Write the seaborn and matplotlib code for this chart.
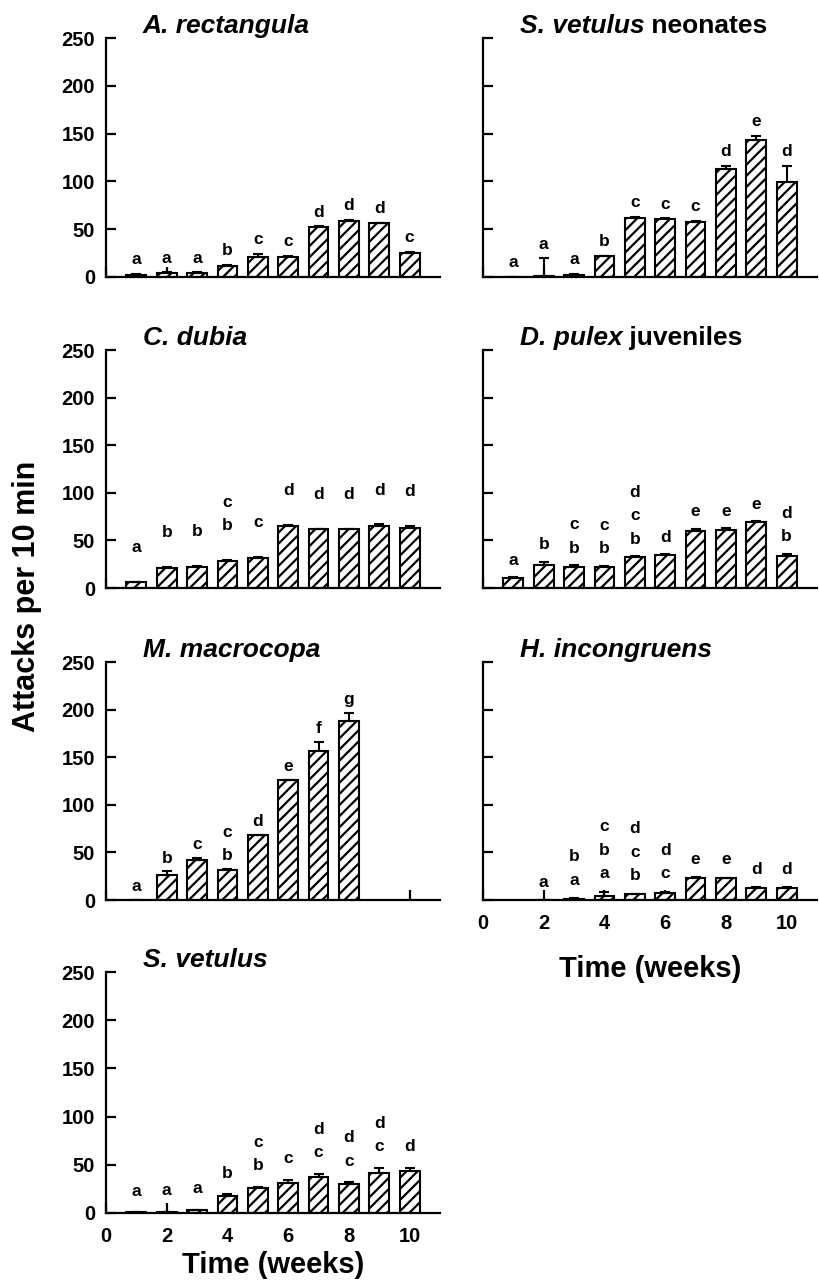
import numpy as np
import pandas as pd
import matplotlib
matplotlib.use("Agg")
import matplotlib.pyplot as plt
import seaborn as sns

# Weeks on the x axis
weeks = [1, 2, 3, 4, 5, 6, 7, 8, 9, 10]

# A. rectangula
rect_mean = [2, 4, 4, 12, 21, 21, 52, 59, 56, 25]
rect_se = [1, 1, 1, 1, 3, 1, 1, 1, 1, 1]
rect_letters = ["a", "a", "a", "b", "c", "c", "d", "d", "d", "c"]

# S. vetulus neonates
neo_mean = [0, 1.5, 2.5, 21.5, 61.5, 60.5, 58, 113, 143, 99]
neo_se = [0, 18, 1, 0.5, 1.5, 1, 0.5, 3.5, 5, 17.5]
neo_letters = ["a", "a", "a", "b", "c", "c", "c", "d", "e", "d"]

# C. dubia
dub_mean = [6, 21.5, 22.5, 28.5, 32, 65.5, 62, 62, 65.5, 63.5]
dub_se = [0.5, 1, 1, 1, 1, 1, 0.5, 0.5, 1.5, 2]
dub_letters = ["a", "b", "b", "c\nb", "c", "d", "d", "d", "d", "d"]

# D. pulex juveniles
pul_mean = [10.5, 24.5, 22.5, 22.5, 32.5, 35, 60, 61, 69.5, 34]
pul_se = [1, 3, 1.5, 1, 1, 0.5, 2, 2, 0.5, 2]
pul_letters = ["a", "b", "c\nb", "c\nb", "d\nc\nb", "d", "e", "e", "e", "d\nb"]

# M. macrocopa (no data for weeks 9-10)
mac_mean = [0, 26.5, 42, 31, 68, 126, 157, 188.5, np.nan, np.nan]
mac_se = [0, 3.5, 2.5, 1.5, 0.5, 0.5, 9, 8, np.nan, np.nan]
mac_letters = ["a", "b", "c", "c\nb", "d", "e", "f", "g", "", ""]

# H. incongruens (no data for week 1)
inc_mean = [np.nan, 0, 1.4, 4.2, 6.3, 7, 23.4, 22.7, 12.9, 12.9]
inc_se = [np.nan, 0, 0.5, 4.5, 0.5, 1.7, 0.5, 0.7, 0.3, 0.3]
inc_letters = ["", "a", "b\na", "c\nb\na", "d\nc\nb", "d\nc", "e", "e", "d", "d"]

# S. vetulus
vet_mean = [0.7, 1, 2.8, 17.7, 26, 31.6, 37.4, 30.5, 41.6, 43.7]
vet_se = [0.3, 0.3, 0.5, 1.7, 1, 3, 3.2, 1.4, 5.2, 3.1]
vet_letters = ["a", "a", "a", "b", "c\nb", "c", "d\nc", "d\nc", "d\nc", "d"]

sns.set_style("ticks")
plt.rcParams["font.family"] = ["Liberation Sans", "DejaVu Sans"]
plt.rcParams["font.weight"] = "bold"
plt.rcParams["axes.labelweight"] = "bold"
for key in ["text.color", "axes.labelcolor", "xtick.color", "ytick.color", "axes.edgecolor"]:
    plt.rcParams[key] = "black"
plt.rcParams["hatch.linewidth"] = 1.6
plt.rcParams["axes.linewidth"] = 1.6

# panel: species (italic), suffix, data, (row, col), letter offset
panels = [
    ("A. rectangula", "", rect_mean, rect_se, rect_letters, (0, 0), 7),
    ("S. vetulus", " neonates", neo_mean, neo_se, neo_letters, (0, 1), 7),
    ("C. dubia", "", dub_mean, dub_se, dub_letters, (1, 0), 28),
    ("D. pulex", " juveniles", pul_mean, pul_se, pul_letters, (1, 1), 10),
    ("M. macrocopa", "", mac_mean, mac_se, mac_letters, (2, 0), 6),
    ("H. incongruens", "", inc_mean, inc_se, inc_letters, (2, 1), 11),
    ("S. vetulus", "", vet_mean, vet_se, vet_letters, (3, 0), 14),
]

W, H = 820, 1280
col_x = [106, 483]
ax_w = 334
row_y = [(38, 277), (350, 588), (662, 900), (972, 1213)]

fig = plt.figure(figsize=(8.2, 12.8), dpi=100)

for species, suffix, mean, se, letters, (r, c), off in panels:
    top_px, bot_px = row_y[r]
    ax = fig.add_axes([col_x[c] / W, 1 - bot_px / H, ax_w / W, (bot_px - top_px) / H])
    df = pd.DataFrame({"week": weeks, "mean": mean, "se": se, "letter": letters})
    bars = df.dropna(subset=["mean"])
    sns.barplot(data=bars, x="week", y="mean", native_scale=True, width=0.65,
                color="white", edgecolor="black", linewidth=1.5, hatch="///",
                errorbar=None, saturation=1, ax=ax)
    ax.errorbar(bars["week"], bars["mean"], yerr=[np.zeros(len(bars)), bars["se"]],
                fmt="none", ecolor="black", elinewidth=1.5, capsize=3.5, capthick=1.5)

    for _, row in df.iterrows():
        if row["letter"]:
            y = np.nansum([row["mean"], row["se"]]) + off
            ax.text(row["week"], y, row["letter"], ha="center", va="bottom",
                    fontsize=12.5, linespacing=1.7)

    t1 = ax.annotate(species, xy=(0.11, 1), xycoords="axes fraction", xytext=(0, 0),
                     textcoords="offset points", ha="left", va="bottom",
                     fontsize=19, fontstyle="italic")
    if suffix:
        ax.annotate(suffix, xy=(1, 0), xycoords=t1, ha="left", va="bottom", fontsize=19)

    ax.set_xlim(0, 11)
    ax.set_ylim(0, 250)
    ax.set_xticks([0, 2, 4, 6, 8, 10])
    ax.set_yticks([0, 50, 100, 150, 200, 250])
    ax.set_xlabel("")
    ax.set_ylabel("")
    sns.despine(ax=ax)
    ax.tick_params(axis="both", direction="in", length=7, width=1.6, labelsize=14.5)
    ax.tick_params(axis="y", pad=8, labelleft=(c == 0))
    show_x = (r, c) in [(2, 1), (3, 0)]
    ax.tick_params(axis="x", pad=10, labelbottom=show_x)
    if (r, c) == (2, 1):
        ax.set_xlabel("Time (weeks)", fontsize=21, labelpad=16)
    if (r, c) == (3, 0):
        ax.set_xlabel("Time (weeks)", fontsize=21, labelpad=4)

fig.text(0.033, 0.534, "Attacks per 10 min", rotation=90, ha="center", va="center",
         fontsize=22)

fig.savefig("out.png", dpi=100)
